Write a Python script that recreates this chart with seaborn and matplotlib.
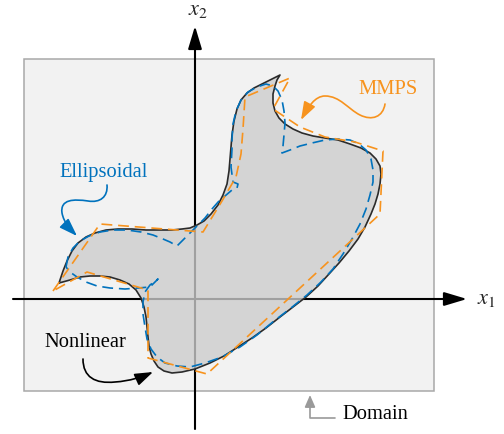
import matplotlib
matplotlib.use("Agg")
import matplotlib.pyplot as plt
import seaborn as sns
from matplotlib.patches import Rectangle, FancyArrowPatch
from matplotlib.path import Path

sns.set_theme(style="white")
plt.rcParams["font.family"] = ["Liberation Serif", "DejaVu Serif"]
plt.rcParams["mathtext.fontset"] = "stix"

# Boundary traces in canvas units (x to the right, y downward)
nonlinear_x = [59, 63, 67, 72, 78, 86, 95, 106, 118, 132, 146, 160, 172, 182, 190, 197,
               204, 211, 218, 223, 227, 229, 230, 231, 232, 234, 237, 241, 247, 254, 262,
               270, 280, 277, 275, 273, 273, 275, 279, 285, 293, 302, 313, 325, 338, 350,
               361, 370, 376, 380, 381, 380, 378, 375, 371, 365, 358, 349, 339, 329, 318,
               306, 293, 280, 266, 252, 238, 224, 210, 195, 182, 172, 164, 158, 154, 151,
               149, 148, 147, 146, 144, 141, 136, 129, 120, 110, 100, 90, 80, 70]
nonlinear_y = [284, 272, 262, 252, 244, 238, 234, 231, 230, 230, 231, 231, 231, 230, 229, 226,
               222, 215, 206, 196, 185, 172, 160, 148, 136, 122, 110, 101, 94, 89, 85,
               81, 76, 81, 87, 95, 104, 112, 119, 125, 130, 134, 137, 139, 141, 145,
               149, 154, 160, 167, 175, 185, 195, 205, 215, 228, 240, 252, 264, 275, 287,
               298, 308, 318, 329, 339, 348, 357, 364, 370, 373, 374, 372, 368, 362, 355,
               347, 338, 328, 318, 308, 299, 291, 285, 281, 278, 277, 277, 278, 281]

ellipsoidal_x = [66, 68, 73, 80, 89, 100, 113, 127, 141, 153, 163, 170, 177, 183, 190, 197,
                 205, 212, 219, 225, 232, 237, 238, 233, 231, 232, 232, 233, 236, 241, 248,
                 257, 266, 273, 278, 282, 284, 285, 284, 283, 282, 290, 300, 312, 325, 338,
                 350, 359, 366, 371, 373, 373, 370, 366, 360, 352, 343, 333, 321, 307, 291,
                 274, 257, 240, 222, 205, 190, 177, 165, 157, 151, 147, 145, 143, 143, 145,
                 150, 158, 150, 138, 125, 110, 97, 86, 77, 70, 66]
ellipsoidal_y = [268, 258, 249, 242, 237, 233, 231, 231, 233, 236, 240, 243, 247, 241, 234, 227,
                 219, 210, 202, 197, 191, 189, 185, 183, 168, 150, 140, 125, 112, 101, 93,
                 88, 85, 87, 92, 101, 112, 124, 136, 147, 154, 151, 147, 144, 141, 140,
                 141, 145, 151, 160, 171, 183, 196, 210, 225, 240, 255, 270, 283, 296, 309,
                 322, 336, 348, 358, 364, 368, 367, 364, 358, 350, 340, 328, 315, 303, 293,
                 286, 280, 288, 289, 290, 289, 287, 283, 278, 273, 268]

mmps_x = [53, 100, 203, 222, 236, 241, 243, 245, 290, 273, 300, 325, 355, 383, 380, 207,
          148, 148, 87, 53]
mmps_y = [292, 225, 233, 202, 178, 155, 130, 98, 79, 110, 128, 138, 143, 152, 215, 375,
          359, 291, 273, 292]

label_names = ["Ellipsoidal", "MMPS", "Nonlinear", "Domain"]

BLUE = "#0072BD"
ORANGE = "#F7931E"
DARK = "#2b2b2b"

fig = plt.figure(figsize=(5.04, 4.35), dpi=100, facecolor="white")
ax = fig.add_axes([0, 0, 1, 1])
ax.set_facecolor("white")

# Domain box
ax.add_patch(Rectangle((24, 60), 410, 332, facecolor="#f2f2f2",
                       edgecolor="#a8a8a8", lw=1.1, zorder=1))

# Coordinate axes
axis_arrow = dict(arrowstyle="-|>,head_length=1.0,head_width=0.3", color="black",
                  lw=1.5, shrinkA=0, shrinkB=0, mutation_scale=14)
ax.annotate("", xy=(467, 300), xytext=(13, 300), arrowprops=axis_arrow, zorder=2)
ax.annotate("", xy=(195, 27), xytext=(195, 430), arrowprops=axis_arrow, zorder=2)
ax.text(477, 300, r"$x_1$", fontsize=16, ha="left", va="center", zorder=6)
ax.text(188, 10, r"$x_2$", fontsize=16, ha="left", va="center", zorder=6)

# Nonlinear feasible region
ax.fill(nonlinear_x, nonlinear_y, facecolor=(0.80, 0.80, 0.80), alpha=0.79,
        edgecolor="none", zorder=3)
closed_x = nonlinear_x + nonlinear_x[:1]
closed_y = nonlinear_y + nonlinear_y[:1]
sns.lineplot(x=closed_x, y=closed_y, sort=False, estimator=None, color=DARK,
             lw=1.2, ax=ax, zorder=4)

# Approximations
sns.lineplot(x=ellipsoidal_x, y=ellipsoidal_y, sort=False, estimator=None, color=BLUE,
             lw=1.2, linestyle=(0, (6.5, 3.5)), ax=ax, zorder=5)
sns.lineplot(x=mmps_x, y=mmps_y, sort=False, estimator=None, color=ORANGE,
             lw=1.2, linestyle=(0, (6.5, 3.5)), ax=ax, zorder=5)

# Labels
ax.text(104, 173, label_names[0], color=BLUE, fontsize=14.8, ha="center", va="center")
ax.text(388, 90, label_names[1], color=ORANGE, fontsize=14.8, ha="center", va="center")
ax.text(85, 343, label_names[2], color="black", fontsize=14.8, ha="center", va="center")
ax.text(342, 415, label_names[3], color="black", fontsize=14.8, ha="left", va="center")


def curvy_arrow(verts, color, lw=1.2, scale=10, head="-|>,head_length=1.1,head_width=0.38"):
    codes = [Path.MOVETO] + [Path.CURVE4] * (len(verts) - 1)
    arrow = FancyArrowPatch(path=Path(verts, codes), arrowstyle=head, color=color,
                            lw=lw, mutation_scale=scale, zorder=6)
    ax.add_patch(arrow)


curvy_arrow([(107, 186), (108, 198), (100, 204), (88, 202),
             (74, 200), (60, 200), (62, 214),
             (64, 224), (70, 230), (77, 237)], BLUE)
curvy_arrow([(385, 105), (383, 118), (372, 122), (360, 116),
             (348, 110), (340, 97), (325, 97),
             (315, 97), (308, 108), (301, 121)], ORANGE)
curvy_arrow([(83, 360), (83, 378), (95, 385), (115, 383),
             (130, 382), (142, 378), (153, 373)], "black")

# Domain pointer
dom = FancyArrowPatch(path=Path([(335, 419), (310, 419), (310, 396)],
                                [Path.MOVETO, Path.LINETO, Path.LINETO]),
                      arrowstyle="-|>,head_length=0.8,head_width=0.35", color="#9a9a9a",
                      lw=1.2, mutation_scale=9, zorder=6)
ax.add_patch(dom)

ax.set_xlim(0, 504)
ax.set_ylim(435, 0)
ax.axis("off")
if ax.get_legend() is not None:
    ax.get_legend().remove()

fig.savefig("out.png", dpi=100, facecolor="white")
